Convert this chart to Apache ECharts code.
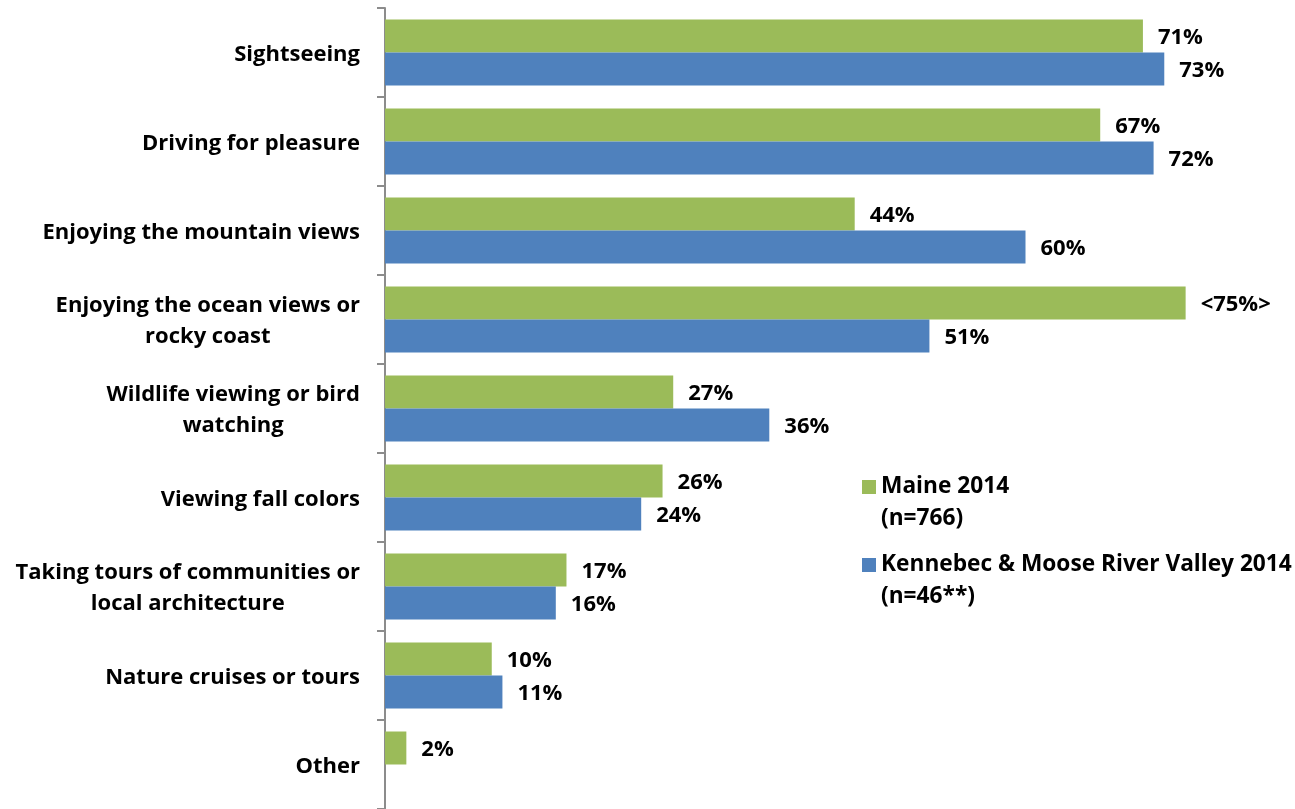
<!DOCTYPE html>
<html>
<head>
<meta charset="utf-8">
<script src="https://cdn.jsdelivr.net/npm/echarts@6/dist/echarts.min.js"></script>
<style>
  html, body { margin: 0; padding: 0; background: #ffffff; }
  #chart { width: 1295px; height: 809px; }
</style>
</head>
<body>
<div id="chart"></div>
<script>
// Scenic activities participated in, share of visitors (%)
const categories = [
  'Sightseeing',
  'Driving for pleasure',
  'Enjoying the mountain views',
  'Enjoying the ocean views or\nrocky coast',
  'Wildlife viewing or bird\nwatching',
  'Viewing fall colors',
  'Taking tours of communities or\nlocal architecture',
  'Nature cruises or tours',
  'Other'
];
const maine2014 = [71, 67, 44, 75, 27, 26, 17, 10, 2];
const kennebec2014 = [73, 72, 60, 51, 36, 24, 16, 11, null];
// Maine values printed inside angle brackets
const maineBracketed = [false, false, false, true, false, false, false, false, false];
const seriesNames = ['Maine 2014', 'Kennebec & Moose River Valley 2014'];
const sampleSizes = ['(n=766)', '(n=46**)'];

const FONT = 'Open Sans';
const FONT_SIZE = 22;
const LEGEND_FONT_SIZE = 22.7;
const GREEN = '#9BBB59';
const BLUE = '#4F81BD';
const AXIS_GRAY = '#8c8c8c';

const chart = echarts.init(document.getElementById('chart'), null, { renderer: 'canvas' });

const valueLabel = {
  show: true,
  position: 'right',
  distance: 15,
  offset: [0, 2],
  color: '#000',
  fontFamily: FONT,
  fontWeight: 'bold',
  fontSize: FONT_SIZE
};

chart.setOption({
  animation: false,
  backgroundColor: '#ffffff',
  grid: { left: 385, top: 8, width: 854, height: 804, containLabel: false },
  xAxis: {
    type: 'value',
    min: 0,
    max: 80,
    show: false,
    splitLine: { show: false }
  },
  yAxis: {
    type: 'category',
    data: categories,
    inverse: true,
    axisLine: { show: true, lineStyle: { color: AXIS_GRAY, width: 2 } },
    axisTick: { show: true, length: 8, lineStyle: { color: AXIS_GRAY, width: 2 } },
    splitLine: { show: false },
    axisLabel: {
      margin: 25,
      color: '#000',
      fontFamily: FONT,
      fontWeight: 'bold',
      fontSize: FONT_SIZE,
      lineHeight: 31,
      padding: [4, 0, 0, 0],
      formatter: v => v.split('\n').map(s => '{c|' + s + '}').join('\n'),
      rich: {
        c: {
          align: 'center',
          color: '#000',
          fontFamily: FONT,
          fontWeight: 'bold',
          fontSize: FONT_SIZE,
          lineHeight: 31
        }
      }
    }
  },
  legend: {
    orient: 'vertical',
    left: 857,
    top: 434,
    itemWidth: 14,
    itemHeight: 14,
    itemGap: -18,
    icon: 'rect',
    selectedMode: false,
    data: seriesNames,
    formatter: name => '\n' + name + '\n' + sampleSizes[seriesNames.indexOf(name)],
    textStyle: {
      color: '#000',
      fontFamily: FONT,
      fontWeight: 'bold',
      fontSize: LEGEND_FONT_SIZE,
      lineHeight: 32
    }
  },
  series: [
    {
      name: seriesNames[0],
      type: 'bar',
      data: maine2014,
      barWidth: 33,
      barGap: '0%',
      itemStyle: { color: GREEN },
      label: Object.assign({}, valueLabel, {
        formatter: p => maineBracketed[p.dataIndex] ? '<' + p.value + '%>' : p.value + '%'
      })
    },
    {
      name: seriesNames[1],
      type: 'bar',
      data: kennebec2014,
      barWidth: 33,
      barGap: '0%',
      itemStyle: { color: BLUE },
      label: Object.assign({}, valueLabel, {
        formatter: p => p.value + '%'
      })
    }
  ]
});
</script>
</body>
</html>
